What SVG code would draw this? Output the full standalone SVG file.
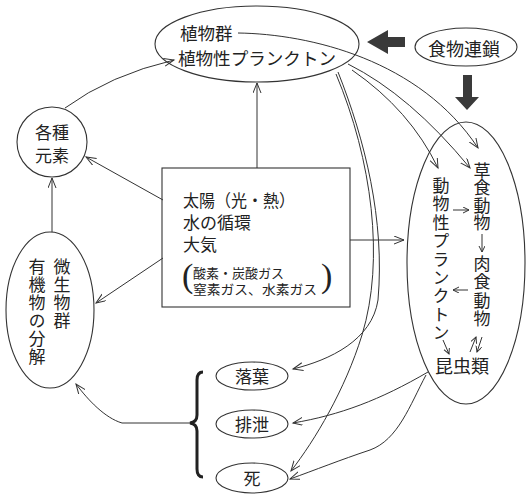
<svg xmlns="http://www.w3.org/2000/svg" width="532" height="498" viewBox="0 0 532 498">
<style>
text{font-family:"Noto Sans CJK JP","Noto Sans CJK SC",sans-serif;fill:#222}
.n{fill:none;stroke:#333;stroke-width:1.1}
.c{fill:none;stroke:#333;stroke-width:1}
.v{writing-mode:vertical-rl;text-orientation:upright}
.blk{fill:#3a3a3a;stroke:none}
.par{font-family:"Liberation Serif",serif;font-size:34px}
</style>
<defs>
<marker id="a" markerWidth="12" markerHeight="10" refX="10" refY="4" orient="auto" markerUnits="userSpaceOnUse">
<path d="M0,0 L10,4 L0,8" fill="none" stroke="#333" stroke-width="1"/>
</marker>
<marker id="s" markerWidth="8" markerHeight="8" refX="6" refY="3" orient="auto" markerUnits="userSpaceOnUse">
<path d="M0,0 L6,3 L0,6" fill="none" stroke="#333" stroke-width="1"/>
</marker>
</defs>
<rect width="532" height="498" fill="#fff"/>

<g id="connectors">
<path class="c" d="M238,33 C310,34 420,60 478,148" marker-end="url(#a)"/>
<path class="c" d="M348,64 Q410,95 470,168" marker-end="url(#a)"/>
<path class="c" d="M352,70 Q410,110 438,168" marker-end="url(#a)"/>
<path class="c" d="M338,72 C365,140 385,220 378,300 C372,340 330,360 293,369" marker-end="url(#a)"/>
<path class="c" d="M336,74 C372,160 385,260 362,335 C345,390 315,440 291,471" marker-end="url(#a)"/>
<path class="c" d="M428,372 C380,400 340,415 293,423" marker-end="url(#a)"/>
<path class="c" d="M426,375 C410,405 398,440 370,450 C340,460 315,470 290,479" marker-end="url(#a)"/>
<path class="c" d="M163,200 L86,157" marker-end="url(#a)"/>
<path class="c" d="M163,258 L96,303" marker-end="url(#a)"/>
<path class="c" d="M257,168 L257,83" marker-end="url(#a)"/>
<path class="c" d="M350,240 L404,240" marker-end="url(#a)"/>
<path class="c" d="M52,232 L52,178" marker-end="url(#a)"/>
<path class="c" d="M65,108 Q110,75 174,60" marker-end="url(#a)"/>
<path class="c" d="M190,423 L122,423 C105,418 88,400 76,384" marker-end="url(#a)"/>
<path d="M203,372 Q197,372 197,380 L197,415 Q197,422 190,423 Q197,424 197,431 L197,469 Q197,477 203,477" fill="none" stroke="#222" stroke-width="3"/>
<path class="c" d="M453,210 L469,210" marker-end="url(#s)"/>
<path class="c" d="M468,290 L453,290" marker-end="url(#s)"/>
<path class="c" d="M482,234 L482,252" marker-end="url(#s)"/>
<path class="c" d="M443,340 L449,354" marker-end="url(#s)"/>
<path class="c" d="M470,352 L476,337" marker-end="url(#s)"/>
<path class="c" d="M482,337 L477,352" marker-end="url(#s)"/>
<polygon class="blk" points="367,42 388,30 388,37 405,37 405,47 388,47 388,54"/>
<polygon class="blk" points="463,75 472,75 472,97 479,97 467,110 455,97 463,97"/>
</g>

<g id="plants">
<ellipse class="n" cx="257" cy="44" rx="102" ry="38"/>
<text font-size="17.5"><tspan x="180" y="40">植物群</tspan><tspan x="178" y="65" textLength="158" lengthAdjust="spacingAndGlyphs">植物性プランクトン</tspan></text>
</g>

<g id="foodchain">
<ellipse class="n" cx="466" cy="47" rx="51" ry="19"/>
<text x="464" y="56" font-size="18" text-anchor="middle">食物連鎖</text>
</g>

<g id="elements">
<circle class="n" cx="52" cy="142" r="35"/>
<text font-size="17" text-anchor="middle"><tspan x="52" y="139">各種</tspan><tspan x="52" y="162">元素</tspan></text>
</g>

<g id="environment">
<rect class="n" x="162" y="168" width="188" height="139"/>
<text font-size="17"><tspan x="183" y="207" textLength="112" lengthAdjust="spacingAndGlyphs">太陽（光・熱）</tspan><tspan x="183" y="229">水の循環</tspan><tspan x="183" y="251">大気</tspan><tspan class="par" x="182" y="287">(</tspan><tspan x="193" y="278" font-size="13">酸素・炭酸ガス</tspan><tspan x="193" y="294" font-size="13" textLength="124" lengthAdjust="spacingAndGlyphs">窒素ガス、水素ガス</tspan><tspan class="par" x="321" y="287">)</tspan></text>
</g>

<g id="microbes">
<ellipse class="n" cx="50" cy="310" rx="44" ry="78"/>
<text class="v" x="62" y="258" font-size="17" letter-spacing="1">微生物群</text>
<text class="v" x="37" y="258" font-size="17" letter-spacing="1">有機物の分解</text>
</g>

<g id="animals">
<ellipse class="n" cx="466" cy="263" rx="59" ry="141"/>
<text class="v" x="441" y="177" font-size="17" letter-spacing="1.4">動物性プランクトン</text>
<text class="v" x="482" y="162" font-size="17" letter-spacing="0.5">草食動物</text>
<text class="v" x="482" y="255" font-size="17" letter-spacing="1.3">肉食動物</text>
<text x="435" y="373" font-size="18">昆虫類</text>
</g>

<g id="fallenleaves">
<ellipse class="n" cx="252" cy="376" rx="36" ry="14"/>
<text x="252" y="383" font-size="17" text-anchor="middle">落葉</text>
</g>
<g id="excretion">
<ellipse class="n" cx="252" cy="424" rx="36" ry="14"/>
<text x="252" y="431" font-size="17" text-anchor="middle">排泄</text>
</g>
<g id="death">
<ellipse class="n" cx="252" cy="478" rx="36" ry="15"/>
<text x="252" y="485" font-size="17" text-anchor="middle">死</text>
</g>
</svg>
